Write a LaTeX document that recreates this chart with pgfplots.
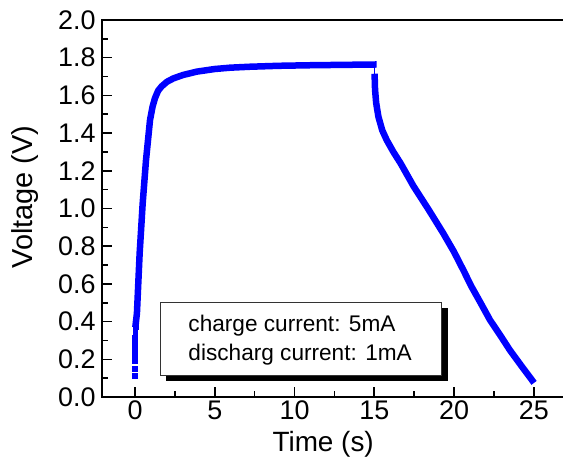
\documentclass[border=0pt]{standalone}
\usepackage{fontspec}
\setmainfont{Liberation Sans}
\usepackage{pgfplots}
\pgfplotsset{compat=1.18}
\begin{document}
\begin{tikzpicture}
\begin{axis}[
  scale only axis, width=463.65bp, height=377bp,
  xmin=-2.07, xmax=27, ymin=0, ymax=2.0,
  xtick={0,5,10,15,20,25}, minor xtick={2.5,7.5,12.5,17.5,22.5},
  ytick={0,0.2,0.4,0.6,0.8,1.0,1.2,1.4,1.6,1.8,2.0},
  minor ytick={0.1,0.3,0.5,0.7,0.9,1.1,1.3,1.5,1.7,1.9},
  tick align=inside, xtick pos=bottom, ytick pos=left,
  major tick length=10bp, minor tick length=6bp,
  axis line style={line width=1.6bp},
  every tick/.style={black, line width=1.6bp},
  tick label style={font=\fontsize{27}{32}\selectfont},
  /pgf/number format/assume math mode=true,
  yticklabel style={/pgf/number format/fixed, /pgf/number format/fixed zerofill, /pgf/number format/precision=1, xshift=-3bp},
  xlabel={Time (s)}, ylabel={Voltage (V)},
  xlabel style={font=\fontsize{28}{33}\selectfont, at={(axis description cs:0.477,-0.145)}, anchor=base},
  ylabel style={font=\fontsize{29}{34}\selectfont, at={(axis description cs:-0.166,0.53)}, anchor=center},
]
% initial sparse points
\addplot[only marks, mark=square*, color=blue, mark size=2.4bp] coordinates {
(-0.03,0.113)(-0.03,0.152)(-0.02,0.191)(-0.02,0.223)(-0.01,0.255)(0,0.285)(0,0.315)(0.01,0.343)(0.02,0.370)
};
% charging
\addplot[color=blue, line width=6.5bp, line join=round] coordinates {
(0.02,0.37)(0.12,0.444)(0.29,0.762)(0.38,0.886)(0.48,1.027)(0.69,1.257)(0.94,1.469)(1.1,1.54)(1.25,1.585)(1.45,1.625)(1.67,1.648)(2.0,1.672)(2.4,1.69)(3.0,1.708)(3.87,1.726)(5.0,1.74)(5.96,1.747)(7.2,1.752)(9,1.757)(11,1.760)(13,1.762)(15.15,1.764)
};
% connector
\addplot[color=blue, line width=0.8bp] coordinates {(15.0,1.76)(15.0,1.71)};
% discharging
\addplot[color=blue, line width=6.5bp, line join=round] coordinates {
(15.02,1.715)(15.05,1.63)(15.12,1.56)(15.26,1.487)(15.5,1.415)(15.78,1.363)(16.2,1.30)(16.65,1.24)(17.45,1.12)(18.4,0.995)(19.33,0.868)(20.0,0.77)(20.58,0.674)(21.1,0.585)(21.63,0.505)(22.26,0.408)(22.88,0.33)(23.5,0.249)(24.2,0.168)(25.02,0.075)
};
\fill[black, shift={(6bp,-5bp)}] (axis cs:1.57,0.113) rectangle (axis cs:19.23,0.5);
\draw[fill=white, draw=black!80, line width=0.8bp] (axis cs:1.57,0.113) rectangle (axis cs:19.23,0.5);
\node[anchor=base west, inner sep=0pt, font=\fontsize{22.7}{27}\selectfont] at (axis cs:3.34,0.346) {charge current: 5mA};
\node[anchor=base west, inner sep=0pt, font=\fontsize{22.7}{27}\selectfont] at (axis cs:3.34,0.196) {discharg current: 1mA};
\end{axis}
\pgfresetboundingbox
\path (-102bp,-76bp) rectangle (461bp,397bp);
\end{tikzpicture}
\end{document}
